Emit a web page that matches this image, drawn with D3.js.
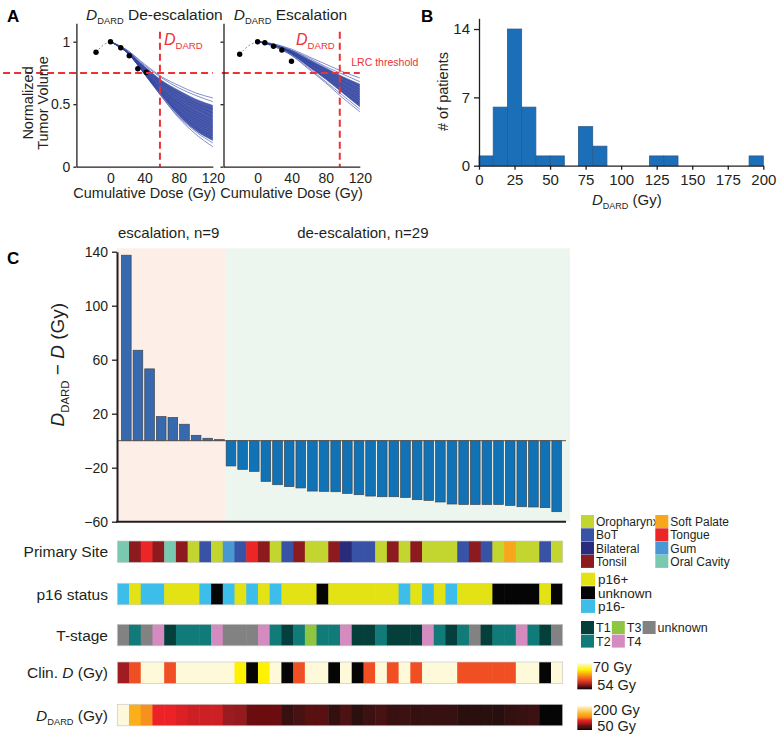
<!DOCTYPE html>
<html>
<head>
<meta charset="utf-8">
<script src="https://cdn.jsdelivr.net/npm/d3@7"></script>
<style>
  body { margin: 0; background: #fff; }
  svg { font-family: "Liberation Sans", Arial, sans-serif; }
</style>
</head>
<body>
<div id="wrapper"></div>
<script>
// ---- data ----
// panel A: predicted volume curves (normalized) at these doses
const fanDoses = [0, 20, 40, 60, 80, 100, 120];
const deescCurves = [
  [1, .93, .82, .72, .65, .59, .55],
  [1, .93, .81, .71, .63, .57, .52],
  [1, .92, .80, .69, .61, .54, .49],
  [1, .92, .80, .68, .59, .51, .46],
  [1, .92, .79, .67, .57, .49, .43],
  [1, .92, .78, .66, .55, .47, .40],
  [1, .92, .78, .65, .53, .44, .37],
  [1, .91, .77, .63, .51, .42, .35],
  [1, .91, .77, .62, .50, .40, .33],
  [1, .91, .76, .61, .48, .38, .31],
  [1, .91, .76, .60, .47, .36, .29],
  [1, .91, .75, .59, .45, .34, .27],
  [1, .91, .75, .58, .44, .32, .25],
  [1, .91, .75, .58, .43, .31, .23],
  [1, .91, .74, .57, .41, .29, .21],
  [1, .91, .74, .56, .40, .28, .19],
  [1, .91, .74, .56, .39, .26, .16]
];
const escCurves = [
  [1, .98, .94, .88, .82, .76, .71],
  [1, .98, .93, .87, .80, .74, .68],
  [1, .97, .93, .86, .79, .72, .66],
  [1, .97, .92, .85, .78, .71, .64],
  [1, .97, .92, .84, .77, .69, .62],
  [1, .97, .92, .84, .76, .68, .60],
  [1, .97, .91, .83, .75, .66, .58],
  [1, .97, .91, .83, .74, .65, .56],
  [1, .97, .91, .82, .73, .63, .54],
  [1, .97, .90, .81, .72, .62, .52],
  [1, .97, .90, .81, .71, .60, .50],
  [1, .97, .90, .80, .70, .59, .48],
  [1, .96, .89, .79, .68, .57, .46],
  [1, .96, .89, .78, .67, .55, .44]
];
const deescDotDose = [-17, 0, 12, 22, 32, 42];
const deescDotVol = [0.915, 1.0, 0.952, 0.888, 0.784, 0.755];
const escDotDose = [-21, 0, 8.5, 18.7, 28.5, 39.8];
const escDotVol = [0.9, 1.0, 0.992, 0.963, 0.933, 0.843];
const deescPreDose = [-17, -8, 0], deescPreVol = [0.915, 0.975, 1.0];
const escPreDose = [-21, -10, 0], escPreVol = [0.9, 0.97, 1.0];
const deescDard = 58, escDard = 96.5, lrcThreshold = 0.75;
const doseTicksA = [0, 40, 80, 120], volTicksA = [0, 0.5, 1];

// panel B: histogram of D_DARD
const histBinStart = [0, 10, 20, 30, 40, 50, 60, 70, 80, 90, 100, 110, 120, 130, 140, 150, 160, 170, 180, 190];
const histCounts   = [1, 6, 14, 6, 1, 1, 0, 4, 2, 0, 0, 0, 1, 1, 0, 0, 0, 0, 0, 1];
const doseTicksB = [0, 25, 50, 75, 100, 125, 150, 175, 200], countTicksB = [0, 7, 14];

// panel C: per patient
const escalationCount = 9;
const doseDiff = [137.4, 67, 53.2, 17.9, 17.2, 12.2, 4, 1.8, 0.8,
  -18.7, -21.2, -22.7, -30.1, -32.6, -34, -35, -37.3, -37.5, -37.8, -39, -40, -41, -41.5, -41.5,
  -42, -43.7, -44.2, -45.4, -46.9, -47.2, -47.2, -47.2, -47.2, -47.9, -48.9, -49.1, -49.6, -52.6];
const diffTicks = [140, 100, 60, 20, -20, -60];
const primarySite = ["Oral Cavity", "Tonsil", "Tongue", "Tonsil", "Oral Cavity", "Tonsil", "Oropharynx", "BoT",
  "Oropharynx", "Gum", "BoT", "Tongue", "Tonsil", "Oropharynx", "BoT", "Tonsil", "Oropharynx", "Oropharynx",
  "Tonsil", "Bilateral", "BoT", "BoT", "Oropharynx", "Tonsil", "Oropharynx", "Tonsil", "Oropharynx", "Oropharynx",
  "Oropharynx", "BoT", "Tonsil", "BoT", "Oropharynx", "Soft Palate", "Oropharynx", "Oropharynx", "BoT", "Oropharynx"];
const p16Status = ["p16-", "p16+", "p16-", "p16-", "p16+", "p16+", "p16+", "p16-", "unknown", "p16-", "p16+", "p16-",
  "p16+", "p16-", "p16+", "p16+", "p16+", "unknown", "p16+", "p16+", "p16+", "p16+", "p16+", "p16+", "p16-", "p16+",
  "p16-", "p16+", "p16-", "p16+", "p16+", "p16+", "unknown", "unknown", "unknown", "unknown", "p16+", "unknown"];
const tStage = ["unknown", "T2", "unknown", "T4", "T1", "T2", "T2", "T2", "T4", "unknown", "unknown", "unknown", "T4",
  "T2", "T1", "T2", "T3", "T2", "T2", "T4", "T1", "T1", "T2", "T1", "T1", "T1", "T4", "T2", "T1", "T2", "unknown",
  "T1", "T2", "T2", "T4", "T2", "T1", "unknown"];
const clinicalDose = [57, 60, 70, 70, 60, 70, 70, 70, 70, 70, 66, 54, 66, 70, 54, 60, 70, 70, 54, 70, 54, 60, 70, 60,
  70, 60, 70, 70, 70, 60, 60, 60, 60, 60, 70, 70, 54, 70];
const dardDose = [200, 150, 130, 110, 110, 106, 102, 102, 102, 90, 88, 76, 76, 76, 61, 65, 70, 70, 60, 66, 58.5, 62,
  65, 61, 62, 60.5, 61, 61, 61, 58, 58, 58, 57.5, 60, 61, 62, 50, 50];

const siteNames = ["Oropharynx", "BoT", "Bilateral", "Tonsil", "Soft Palate", "Tongue", "Gum", "Oral Cavity"];
const p16Names = ["p16+", "unknown", "p16-"];
const tNames = ["T1", "T2", "T3", "T4", "unknown"];

// ---- colours ----
const ink = "#231f20";
const red = "#ec3237";
const siteColor = d3.scaleOrdinal().domain(siteNames)
  .range(["#c3d52f", "#3853a5", "#2b2b7c", "#8c1a1e", "#f8a61c", "#ec2626", "#4a98d3", "#79c9b0"]);
const p16Color = d3.scaleOrdinal().domain(p16Names).range(["#e3e215", "#050505", "#3dbde9"]);
const tColor = d3.scaleOrdinal().domain(tNames).range(["#053f3b", "#107b78", "#8fc641", "#d48bbf", "#828282"]);
const clinColor = d3.scaleLinear().domain([54, 57, 60, 66, 70])
  .range(["#050505", "#a01c20", "#f04e23", "#fff200", "#fdf9d9"]);
const dardColor = d3.scaleLinear().domain([50, 58, 66, 76, 90, 110, 130, 150, 200])
  .range(["#050505", "#2a0f0f", "#4c1213", "#6b0d0e", "#9b1c20", "#ec2226", "#f7901e", "#fbb01b", "#fdf8da"])
  .clamp(true);

const svg = d3.select("#wrapper").append("svg").attr("width", 780).attr("height", 739);

// D_DARD text helper
function dard(sel, size, before, after) {
  if (before) sel.append("tspan").text(before);
  sel.append("tspan").attr("font-style", "italic").text("D");
  sel.append("tspan").attr("font-size", size * 0.6).attr("dy", size * 0.28).text("DARD");
  sel.append("tspan").attr("dy", -size * 0.28).text(after || "");
}

function styleAxis(g, fs) {
  g.selectAll("path, line").attr("stroke", ink).attr("stroke-width", 1.3);
  g.selectAll("text").attr("font-size", fs).attr("fill", ink).attr("font-family", "Liberation Sans, Arial");
}

// ---- Panel A ----
svg.append("text").attr("x", 7).attr("y", 22).attr("font-size", 17).attr("font-weight", "bold").text("A");

const yA = d3.scaleLinear().domain([0, 1.147]).range([166.7, 23.3]);
const panelsA = [
  { curves: deescCurves, dotDose: deescDotDose, dotVol: deescDotVol, preDose: deescPreDose, preVol: deescPreVol,
    dard: deescDard, range: [76.4, 212.8], title: " De-escalation", labels: true, lrcFrom: -126 },
  { curves: escCurves, dotDose: escDotDose, dotVol: escDotVol, preDose: escPreDose, preVol: escPreVol,
    dard: escDard, range: [223.5, 359.8], title: " Escalation", labels: false, lrcFrom: -42 }
];

panelsA.forEach(p => {
  const x = d3.scaleLinear().domain([-40, 120]).range(p.range);
  const g = svg.append("g");

  const line = d3.line().x((d, i) => x(fanDoses[i])).y(d => yA(d)).curve(d3.curveMonotoneX);
  const lo = p.curves[p.curves.length - 3], hi = p.curves[2];
  const area = d3.area().x((d, i) => x(fanDoses[i])).y0((d, i) => yA(lo[i])).y1(d => yA(d))
    .curve(d3.curveMonotoneX);
  g.append("path").attr("d", area(hi)).attr("fill", "#2e409c").attr("opacity", 0.85);
  g.selectAll(".fan").data(p.curves).join("path")
    .attr("d", line).attr("fill", "none").attr("stroke", "#2f43a2").attr("stroke-width", 0.6);

  const pre = d3.line().x((d, i) => x(p.preDose[i])).y(d => yA(d)).curve(d3.curveMonotoneX);
  g.append("path").attr("d", pre(p.preVol)).attr("fill", "none")
    .attr("stroke", "#5a6cbf").attr("stroke-width", 0.8).attr("stroke-dasharray", "2,2");

  g.selectAll("circle").data(p.dotDose).join("circle")
    .attr("cx", d => x(d)).attr("cy", (d, i) => yA(p.dotVol[i])).attr("r", 2.7).attr("fill", "#000");

  // dashed threshold and D_DARD lines
  g.append("line").attr("x1", x(p.lrcFrom)).attr("x2", x(120))
    .attr("y1", yA(lrcThreshold)).attr("y2", yA(lrcThreshold))
    .attr("stroke", red).attr("stroke-width", 2).attr("stroke-dasharray", "7,4");
  g.append("line").attr("x1", x(p.dard)).attr("x2", x(p.dard)).attr("y1", yA(1.08)).attr("y2", yA(0))
    .attr("stroke", red).attr("stroke-width", 2).attr("stroke-dasharray", "7,4");

  const lab = g.append("text").attr("fill", red).attr("font-size", 16).attr("y", yA(0.975));
  if (p.labels) lab.attr("x", x(p.dard) + 4);
  else lab.attr("x", x(p.dard) - 5).attr("text-anchor", "end");
  dard(lab, 16);

  if (!p.labels) {
    g.append("text").attr("x", x(110)).attr("y", yA(0.805)).attr("fill", red).attr("font-size", 10.5)
      .text("LRC threshold");
  }

  const ay = g.append("g").attr("transform", `translate(${p.range[0]},0)`)
    .call(d3.axisLeft(yA).tickValues(volTicksA).tickSize(3).tickPadding(3).tickSizeOuter(0)
      .tickFormat(p.labels ? d3.format("") : () => ""));
  styleAxis(ay, 14);
  const ax = g.append("g").attr("transform", `translate(0,${yA(0)})`)
    .call(d3.axisBottom(x).tickValues(doseTicksA).tickSize(0).tickPadding(6).tickSizeOuter(0));
  styleAxis(ax, 14);

  g.append("text").attr("x", x(40)).attr("y", 198).attr("text-anchor", "middle")
    .attr("font-size", 14.5).attr("fill", ink).text("Cumulative Dose (Gy)");

  const t = g.append("text").attr("x", x(-40) + (p.labels ? 78 : 67)).attr("y", 20).attr("text-anchor", "middle")
    .attr("font-size", 15.5).attr("fill", ink);
  dard(t, 15.5, null, p.title);

  if (p.labels) {
    const yl = g.append("text").attr("transform", `translate(33,${yA(0.51)}) rotate(-90)`)
      .attr("text-anchor", "middle").attr("font-size", 14.5).attr("fill", ink);
    yl.append("tspan").attr("x", 0).attr("dy", 0).text("Normalized");
    yl.append("tspan").attr("x", 0).attr("dy", 15).text("Tumor Volume");
  }
});

// ---- Panel B ----
svg.append("text").attr("x", 421).attr("y", 22).attr("font-size", 17).attr("font-weight", "bold").text("B");
const xB = d3.scaleLinear().domain([0, 200]).range([479, 763.3]);
const yB = d3.scaleLinear().domain([0, 15.1]).range([165.7, 18.3]);
const gB = svg.append("g");
gB.selectAll("rect").data(histCounts.map((c, i) => ({ x0: histBinStart[i], c })).filter(d => d.c > 0))
  .join("rect")
  .attr("x", d => xB(d.x0)).attr("width", d => xB(d.x0 + 10) - xB(d.x0))
  .attr("y", d => yB(d.c)).attr("height", d => yB(0) - yB(d.c))
  .attr("fill", "#1b6eb8").attr("stroke", "#2b5b8c").attr("stroke-width", 0.8);
styleAxis(gB.append("g").attr("transform", `translate(${xB(0)},0)`)
  .call(d3.axisLeft(yB).tickValues(countTicksB).tickSize(5).tickPadding(4).tickSizeOuter(0)), 15);
styleAxis(gB.append("g").attr("transform", `translate(0,${yB(0)})`)
  .call(d3.axisBottom(xB).tickValues(doseTicksB).tickSize(4).tickPadding(5).tickSizeOuter(0)), 15);
gB.append("text").attr("transform", `translate(448,${yB(7.6)}) rotate(-90)`).attr("text-anchor", "middle")
  .attr("font-size", 14.5).attr("fill", ink).text("# of patients");
dard(gB.append("text").attr("x", xB(104)).attr("y", 205).attr("text-anchor", "middle")
  .attr("font-size", 15).attr("fill", ink), 15, null, " (Gy)");

// ---- Panel C ----
svg.append("text").attr("x", 7).attr("y", 264).attr("font-size", 17).attr("font-weight", "bold").text("C");
const idx = d3.range(doseDiff.length);
const xC = d3.scaleBand().domain(idx).range([119.5, 563.5]).padding(0.17);
const yC = d3.scaleLinear().domain([-60, 140]).range([521.7, 251.7]);
const gC = svg.append("g");
const axisX = 117;
const splitX = (xC(escalationCount - 1) + xC.bandwidth() + xC(escalationCount)) / 2;
const rightX = xC.range()[1] + 6.5;

gC.append("rect").attr("x", axisX).attr("y", yC(142.5)).attr("width", splitX - axisX)
  .attr("height", yC(-60) - yC(142.5)).attr("fill", "#fdefe8");
gC.append("rect").attr("x", splitX).attr("y", yC(142.5)).attr("width", rightX - splitX)
  .attr("height", yC(-60) - yC(142.5)).attr("fill", "#edf6ee");

gC.append("text").attr("x", axisX + 1).attr("y", yC(142.5) - 10).attr("font-size", 15).attr("fill", ink)
  .text(`escalation, n=${escalationCount}`);
gC.append("text").attr("x", splitX + 72).attr("y", yC(142.5) - 10).attr("font-size", 15).attr("fill", ink)
  .text(`de-escalation, n=${doseDiff.length - escalationCount}`);

gC.selectAll(".bar").data(doseDiff).join("rect")
  .attr("x", (d, i) => xC(i)).attr("width", xC.bandwidth())
  .attr("y", d => yC(Math.max(0, d))).attr("height", d => Math.abs(yC(d) - yC(0)))
  .attr("fill", (d, i) => i < escalationCount ? "#3669ad" : "#1172b6")
  .attr("stroke", "#3d4650").attr("stroke-width", 0.7);

gC.append("line").attr("x1", axisX).attr("x2", rightX - 4).attr("y1", yC(0)).attr("y2", yC(0))
  .attr("stroke", "#555").attr("stroke-width", 1);
gC.append("line").attr("x1", axisX - 1).attr("x2", rightX - 4).attr("y1", yC(-60)).attr("y2", yC(-60))
  .attr("stroke", ink).attr("stroke-width", 2);
const ayC = gC.append("g").attr("transform", `translate(${axisX},0)`)
  .call(d3.axisLeft(yC).tickValues(diffTicks).tickSize(5).tickPadding(4).tickSizeOuter(0));
styleAxis(ayC, 14);
ayC.select(".domain").attr("stroke-width", 2);

const yLab = gC.append("text").attr("transform", `translate(64,${yC(60) + 5}) rotate(-90)`)
  .attr("text-anchor", "middle").attr("font-size", 19).attr("fill", ink);
dard(yLab, 19, null, " \u2212 ");
yLab.append("tspan").attr("font-style", "italic").text("D");
yLab.append("tspan").text(" (Gy)");

// heatmap rows
const xH = d3.scaleBand().domain(idx).range([117.3, 562.7]);
const rowH = 21.5;
const rows = [
  { key: "site", values: primarySite, color: siteColor, y: 541 },
  { key: "p16", values: p16Status, color: p16Color, y: 583.3 },
  { key: "t", values: tStage, color: tColor, y: 624.3 },
  { key: "clin", values: clinicalDose, color: clinColor, y: 662 },
  { key: "dard", values: dardDose, color: dardColor, y: 704.3 }
];
rows.forEach(r => {
  const g = svg.append("g");
  g.selectAll("rect").data(r.values).join("rect")
    .attr("x", (d, i) => xH(i)).attr("y", r.y)
    .attr("width", (d, i) => xH.bandwidth() + (i < r.values.length - 1 ? 0.5 : 0)).attr("height", rowH)
    .attr("fill", d => r.color(d));
  g.append("rect").attr("x", xH.range()[0]).attr("y", r.y).attr("width", xH.range()[1] - xH.range()[0])
    .attr("height", rowH).attr("fill", "none").attr("stroke", "#c9c9c9").attr("stroke-width", 0.7);
});

const labFs = 15.5;
function rowLabel(r) {
  return svg.append("text").attr("x", 108).attr("y", r.y + rowH / 2 + 5.5).attr("text-anchor", "end")
    .attr("font-size", labFs).attr("fill", ink);
}
rowLabel(rows[0]).text("Primary Site");
rowLabel(rows[1]).text("p16 status");
rowLabel(rows[2]).text("T-stage");
const cl = rowLabel(rows[3]);
cl.append("tspan").text("Clin. ");
cl.append("tspan").attr("font-style", "italic").text("D");
cl.append("tspan").text(" (Gy)");
dard(rowLabel(rows[4]), labFs, null, " (Gy)");

// ---- legends ----
const lg = svg.append("g");
siteNames.forEach((n, i) => {
  const col = Math.floor(i / 4), row = i % 4;
  const lx = 581 + col * 74.3, ly = 515 + row * 13.3;
  lg.append("rect").attr("x", lx).attr("y", ly).attr("width", 13).attr("height", 13).attr("fill", siteColor(n));
  lg.append("text").attr("x", lx + 15).attr("y", ly + 11).attr("font-size", 12).attr("fill", ink).text(n);
});
p16Names.forEach((n, i) => {
  const ly = 572.7 + i * 13.6;
  lg.append("rect").attr("x", 581).attr("y", ly).attr("width", 14).attr("height", 13).attr("fill", p16Color(n));
  lg.append("text").attr("x", 598).attr("y", ly + 11.5).attr("font-size", 13.5).attr("fill", ink).text(n);
});
const tPos = { T1: [0, 0], T3: [1, 0], unknown: [2, 0], T2: [0, 1], T4: [1, 1] };
tNames.forEach(n => {
  const lx = 581 + tPos[n][0] * 30.8, ly = 621 + tPos[n][1] * 13.6;
  lg.append("rect").attr("x", lx).attr("y", ly).attr("width", 13).attr("height", 13).attr("fill", tColor(n));
  lg.append("text").attr("x", lx + 15).attr("y", ly + 11).attr("font-size", 12.5).attr("fill", ink).text(n);
});

const defs = svg.append("defs");
function colorbar(id, scale, lo, hi, y, h, hiText, loText) {
  const grad = defs.append("linearGradient").attr("id", id)
    .attr("x1", 0).attr("y1", 1).attr("x2", 0).attr("y2", 0);
  d3.range(0, 1.0001, 0.05).forEach(t => {
    grad.append("stop").attr("offset", t).attr("stop-color", scale(lo + t * (hi - lo)));
  });
  lg.append("rect").attr("x", 577.3).attr("y", y).attr("width", 14.7).attr("height", h)
    .attr("fill", `url(#${id})`);
  lg.append("text").attr("x", 593).attr("y", y + 9).attr("font-size", 14.5).attr("fill", ink).text(hiText);
  lg.append("text").attr("x", 636).attr("y", y + h + 0.5).attr("text-anchor", "end")
    .attr("font-size", 14.5).attr("fill", ink).text(loText);
}
colorbar("clinGrad", clinColor, 54, 70, 663.3, 26, "70 Gy", "54 Gy");
colorbar("dardGrad", dardColor, 50, 200, 706, 24, "200 Gy", "50 Gy");
</script>
</body>
</html>
